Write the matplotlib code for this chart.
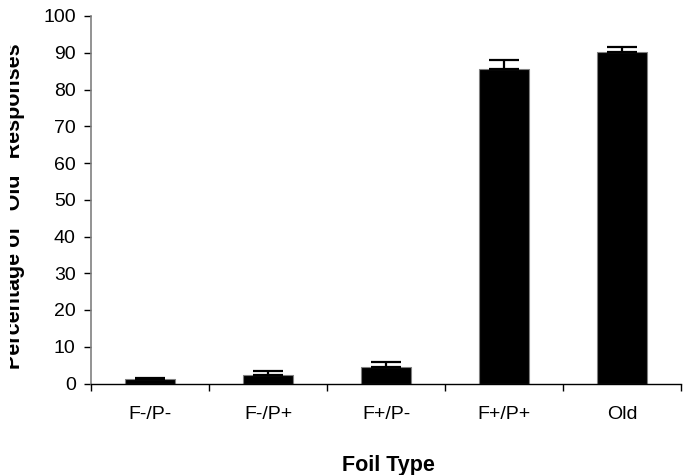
import matplotlib
matplotlib.use("Agg")
import matplotlib.pyplot as plt
from matplotlib.patches import Rectangle
import numpy as np

categories = ["F-/P-", "F-/P+", "F+/P-", "F+/P+", "Old"]
values = [1.1, 2.2, 4.6, 85.7, 90.1]
errors = [0.5, 1.1, 1.3, 2.4, 1.5]
yticks = [0, 10, 20, 30, 40, 50, 60, 70, 80, 90, 100]

plt.rcParams['font.family'] = ['Liberation Sans', 'DejaVu Sans']

fig = plt.figure(figsize=(6.83, 4.75), dpi=100)
ax = fig.add_axes([91/683, 1 - 383.5/475, 590/683, (383.5 - 16)/475])

x = np.arange(len(categories))
ax.bar(x, values, width=0.42, color='black', edgecolor='#808080', linewidth=0.8, zorder=2)
ax.errorbar(x, values, yerr=[np.zeros(len(errors)), errors], fmt='none',
            ecolor='black', elinewidth=1.6, capsize=11, capthick=1.6, zorder=3)

ax.set_xlim(-0.5, len(categories) - 0.5)
ax.set_ylim(0, 100)
ax.set_yticks(yticks)
ax.set_yticklabels([str(t) for t in yticks], fontsize=14)

ax.set_xticks(np.arange(len(categories) + 1) - 0.5)
ax.set_xticklabels([])
ax.set_xticks(x, minor=True)
ax.set_xticklabels(categories, minor=True, fontsize=14)
ax.tick_params(axis='x', which='minor', length=0, pad=16)
ax.tick_params(axis='x', which='major', length=5, width=1, color='black', direction='out')
ax.tick_params(axis='y', length=5, width=1, color='black', direction='out', pad=6)

for s in ['top', 'right']:
    ax.spines[s].set_visible(False)
ax.spines['left'].set_color('#808080')
ax.spines['bottom'].set_color('black')
ax.spines['left'].set_linewidth(1.2)
ax.spines['bottom'].set_linewidth(1.0)

fig.text(388/683, 4.5/475, "Foil Type", ha='center', va='baseline',
         fontsize=15.5, fontweight='bold')
ylab = fig.text(25/683, 1 - 206/475, 'Percentage of "Old" Responses', rotation=90,
                ha='right', va='center', fontsize=15.5, fontweight='bold')
clip = Rectangle((10/683, 0), 1, 1, transform=fig.transFigure, visible=False)
fig.add_artist(clip)
ylab.set_clip_path(clip)

fig.savefig("out.png", dpi=100)
